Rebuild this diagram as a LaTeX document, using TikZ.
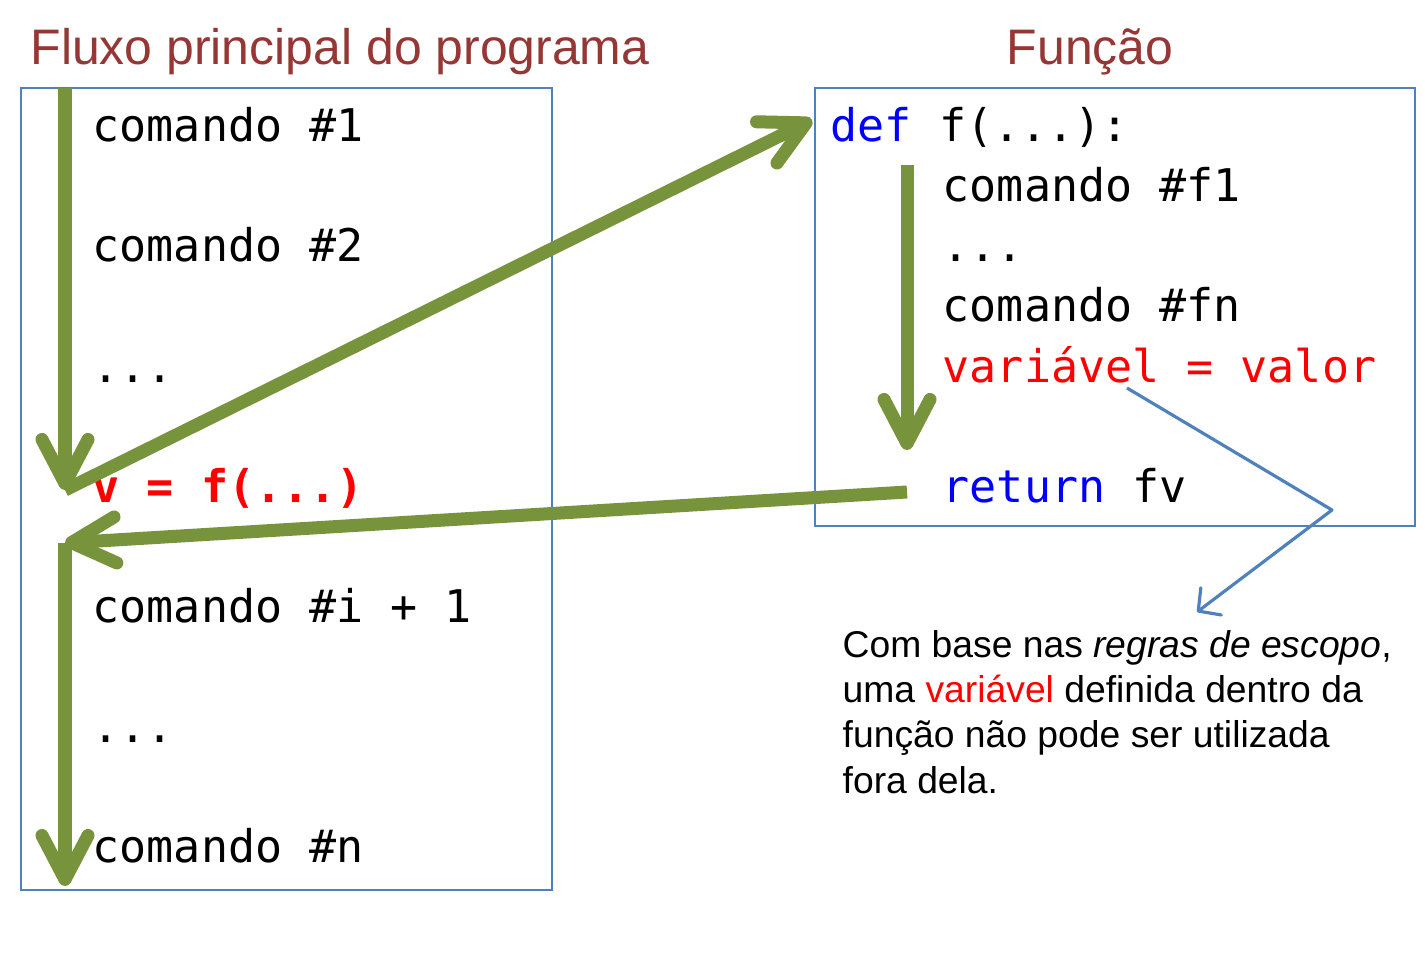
\documentclass[tikz,border=0pt]{standalone}
\usepackage{fontspec}
\setmainfont{Liberation Sans}
\setmonofont{DejaVu Sans Mono}
\usepackage{xcolor}
\usetikzlibrary{arrows.meta}
\definecolor{flowgreen}{RGB}{119,147,60}
\definecolor{boxblue}{RGB}{79,129,189}
\definecolor{titlered}{RGB}{149,55,53}
\newcommand{\codesize}{\fontsize{12.8pt}{15pt}\selectfont\ttfamily}
\tikzset{
  flowarr/.style  = {-{Straight Barb[length=4.4mm,width=4.6mm,round]},flowgreen,line width=3.7pt},
  noteart/.style  = {-{Straight Barb[length=1.6mm,width=3.4mm,round]},boxblue,line width=0.9pt,line join=round},
  codebox/.style  = {draw=boxblue,line width=0.45pt},
  codeline/.style = {anchor=base west,inner sep=0pt,font=\codesize},
  heading/.style  = {anchor=base,inner sep=0pt,text=titlered,font=\fontsize{14.2pt}{17pt}\selectfont}
}

\begin{document}
\begin{tikzpicture}[x=0.01cm,y=-0.01cm]
  \useasboundingbox (0,0) rectangle (1425,958);
  % boxes and headings
  \draw[codebox] (21,88) rectangle (552,890);
  \draw[codebox] (815,88) rectangle (1415,526);
  \node[heading] (maintitle) at (340,65) {Fluxo principal do programa};
  \node[heading] (functitle) at (1090,65) {Função};
  % main program
  \node[codeline] (c1) at (92,142) {comando \#1};
  \node[codeline] (c2) at (92,262) {comando \#2};
  \node[codeline] (c3) at (92,382) {...};
  \node[codeline,text=red,font=\codesize\bfseries] (call) at (92,502) {v = f(...)};
  \node[codeline] (c5) at (92,622) {comando \#i + 1};
  \node[codeline] (c6) at (92,742) {...};
  \node[codeline] (cn) at (92,862) {comando \#n};
  % function body
  \node[codeline] (def) at (830,142) {\textcolor{blue}{def} f(...):};
  \node[codeline] (f1) at (942,202) {comando \#f1};
  \node[codeline] (f2) at (942,262) {...};
  \node[codeline] (fn) at (942,322) {comando \#fn};
  \node[codeline,text=red] (var) at (942,382) {variável = valor};
  \node[codeline] (ret) at (942,502) {\textcolor{blue}{return} fv};
  % note (base is the last line)
  \node[anchor=base west,inner sep=0pt,align=left,
        font=\fontsize{10.6pt}{12.8pt}\selectfont] (note) at (842,793)
    {Com base nas \textit{regras de escopo},\\
     uma \textcolor{red}{variável} definida dentro da\\
     função não pode ser utilizada\\
     fora dela.};
  % flow points
  \coordinate (maintop)  at (65,88);
  \coordinate (callpt)   at (65,490);
  \coordinate (backpt)   at (65,543);
  \coordinate (mainend)  at (65,886);
  \coordinate (defpt)    at (812,120);
  \coordinate (functop)  at (907,165);
  \coordinate (funcend)  at (907,450);
  \coordinate (retpt)    at (907,492);
  \coordinate (varpt)    at (1127,388);
  \coordinate (bend)     at (1332,510);
  \coordinate (notept)   at (1197,612);
  % arrows
  \draw[flowarr] (maintop) -- (callpt);
  \draw[flowarr] (callpt) -- (defpt);
  \draw[flowarr] (functop) -- (funcend);
  \draw[flowarr] (retpt) -- (backpt);
  \draw[flowarr] (backpt) -- (mainend);
  \draw[noteart] (varpt) -- (bend) -- (notept);
\end{tikzpicture}
\end{document}
